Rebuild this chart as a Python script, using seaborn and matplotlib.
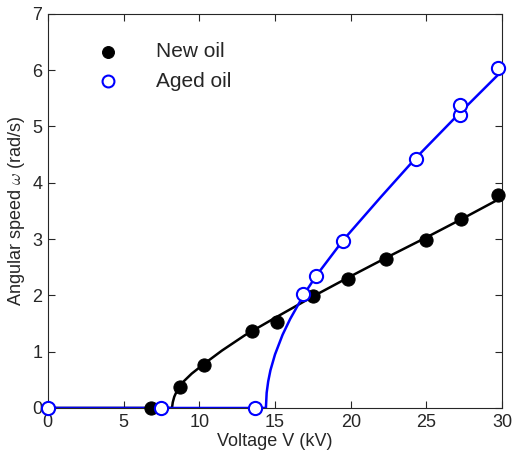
import matplotlib
matplotlib.use("Agg")
import matplotlib.pyplot as plt
import seaborn as sns

# measured points
new_v = [6.8, 8.7, 10.3, 13.5, 15.1, 17.5, 19.8, 22.3, 25.0, 27.3, 29.7]
new_w = [0.0, 0.38, 0.77, 1.37, 1.53, 1.99, 2.29, 2.65, 2.99, 3.36, 3.78]
aged_v = [0.0, 7.5, 13.7, 16.85, 17.7, 19.5, 24.3, 27.2, 27.2, 29.7]
aged_w = [0.0, 0.0, 0.0, 2.03, 2.35, 2.96, 4.43, 5.20, 5.38, 6.03]

# fitted curves
new_fit_v = [0.0, 8.2, 8.25, 8.35, 8.5, 8.7, 9.0, 9.5, 10.3, 11.5, 13.0, 15.0, 17.5, 20.0, 22.5, 25.0, 27.5, 30.0]
new_fit_w = [0.0, 0.0, 0.1, 0.2, 0.29, 0.38, 0.48, 0.61, 0.78, 1.02, 1.29, 1.60, 1.98, 2.34, 2.69, 3.03, 3.38, 3.74]
aged_fit_v = [0.0, 14.4, 14.45, 14.55, 14.7, 15.0, 15.5, 16.0, 16.9, 17.7, 19.5, 22.0, 24.3, 27.2, 30.0]
aged_fit_w = [0.0, 0.0, 0.27, 0.47, 0.67, 0.95, 1.30, 1.58, 2.01, 2.34, 2.98, 3.75, 4.44, 5.24, 5.99]

sns.set_style("white")
plt.rcParams["font.family"] = ["Liberation Sans", "DejaVu Sans"]
plt.rcParams["mathtext.fontset"] = "cm"

fig = plt.figure(figsize=(5.14, 4.61), dpi=100)
ax = fig.add_axes([0.093, 0.115, 0.884, 0.855])

sns.lineplot(x=new_fit_v, y=new_fit_w, color="black", lw=1.8, sort=False, ax=ax)
sns.lineplot(x=aged_fit_v, y=aged_fit_w, color="blue", lw=1.8, sort=False, ax=ax)
sns.scatterplot(x=new_v, y=new_w, color="black", edgecolor="black", s=90, label="New oil",
                zorder=3, clip_on=False, ax=ax)
sns.scatterplot(x=aged_v, y=aged_w, facecolor="white", edgecolor="blue", linewidth=1.5, s=90,
                label="Aged oil", zorder=4, clip_on=False, ax=ax)

ax.set_xlim(0, 30)
ax.set_ylim(0, 7)
ax.set_xticks([0, 5, 10, 15, 20, 25, 30])
ax.set_yticks(range(0, 8))
ax.set_xlabel("Voltage V (kV)", fontsize=13, color="#262626", labelpad=2)
ax.set_ylabel(r"Angular speed $\omega$ (rad/s)", fontsize=13, color="#262626", labelpad=4)
ax.tick_params(direction="in", length=5, width=0.8, bottom=True, left=True, top=True, right=True,
               labelsize=13, colors="#262626", pad=4)
for sp in ax.spines.values():
    sp.set_color("#262626")
    sp.set_linewidth(0.8)

ax.legend(loc="upper left", frameon=False, fontsize=15, handletextpad=1.3, markerscale=0.9,
          bbox_to_anchor=(0.045, 0.975), labelspacing=0.5)

fig.savefig("out.png", dpi=100)
